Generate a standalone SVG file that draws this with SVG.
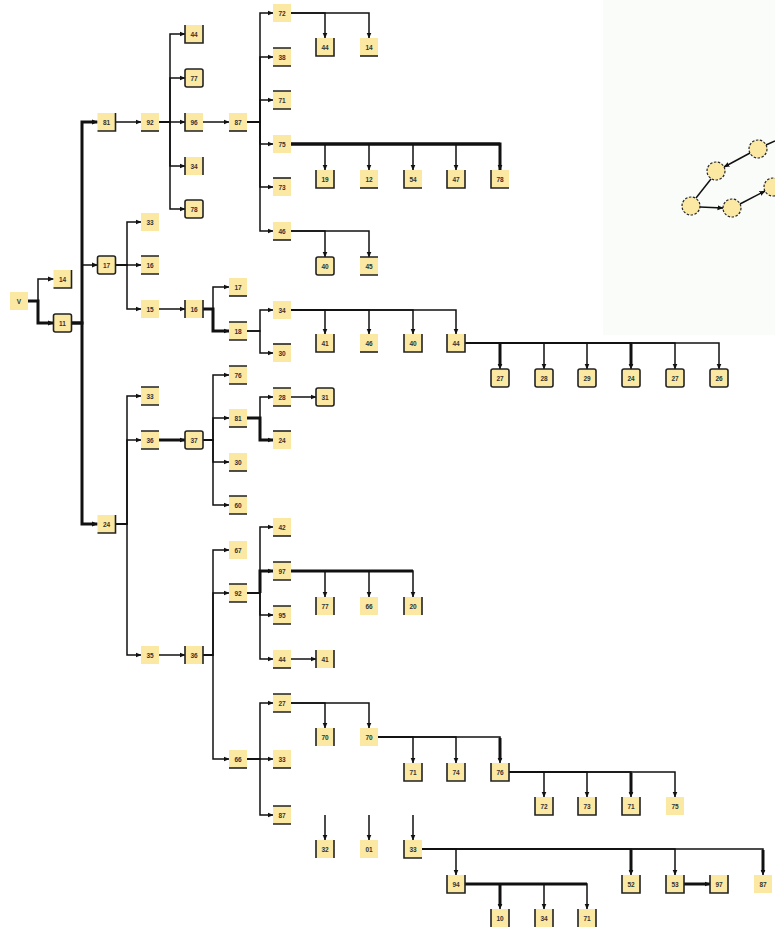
<svg xmlns="http://www.w3.org/2000/svg" width="775" height="938" viewBox="0 0 775 938">
<style>
.n rect{fill:#fbe8a2;stroke:#222;stroke-width:1.6}
.p rect{stroke:none}
.b rect{stroke-width:1.6}
.tb rect{stroke-dasharray:18 18}
.lr rect{stroke-dasharray:18 18;stroke-dashoffset:18}
.bb rect{stroke-dasharray:0 36 18 18}
.rb rect{stroke-dasharray:0 18 36 18}
.lb rect{stroke-dasharray:0 36 36 0}
.lrb rect{stroke-dasharray:0 18 54 0}
.t rect{stroke-dasharray:18 54}
.n text{font-family:"Liberation Sans",Arial,sans-serif;font-size:6.5px;font-weight:bold;fill:#333;text-anchor:middle;dominant-baseline:central}
.e path{fill:none;stroke:#111;stroke-width:1.5}
.e path.k{stroke-width:3}
.c circle{fill:#fbe8a2;stroke:#222;stroke-width:1.2;stroke-dasharray:2.5 1.5}
</style>
<defs>
<marker id="a" markerWidth="6" markerHeight="6" refX="5.5" refY="3" orient="auto" markerUnits="userSpaceOnUse"><path d="M0,0.5 L6,3 L0,5.5z" fill="#111"/></marker>
</defs>
<rect x="603" y="0" width="172" height="335" fill="#fafcfa"/>
<g class="e" id="connectors">
<path d="M28,301 H38 V279 H53.5" marker-end="url(#a)"/>
<path class="k" d="M28,301 H38 V323 H53.5" marker-end="url(#a)"/>
<path class="k" d="M71.5,323 H82 V122 H97.5" marker-end="url(#a)"/>
<path d="M71.5,323 H82 V265 H97.5" marker-end="url(#a)"/>
<path class="k" d="M71.5,323 H82 V524 H97.5" marker-end="url(#a)"/>
<path d="M115.5,122 H141" marker-end="url(#a)"/>
<path d="M159,122 H170 V34 H185" marker-end="url(#a)"/>
<path d="M159,122 H170 V78 H185" marker-end="url(#a)"/>
<path d="M159,122 H185" marker-end="url(#a)"/>
<path d="M159,122 H170 V166 H185" marker-end="url(#a)"/>
<path d="M159,122 H170 V209 H185" marker-end="url(#a)"/>
<path d="M203,122 H229" marker-end="url(#a)"/>
<path d="M247,122 H260 V13 H273" marker-end="url(#a)"/>
<path d="M247,122 H260 V57 H273" marker-end="url(#a)"/>
<path d="M247,122 H260 V100 H273" marker-end="url(#a)"/>
<path d="M247,122 H260 V144 H273" marker-end="url(#a)"/>
<path d="M247,122 H260 V187 H273" marker-end="url(#a)"/>
<path d="M247,122 H260 V231 H273" marker-end="url(#a)"/>
<path d="M291,13 H325 V38" marker-end="url(#a)"/>
<path d="M291,13 H369 V38" marker-end="url(#a)"/>
<path class="k" d="M291,144 H500"/>
<path d="M291,144 H325 V170" marker-end="url(#a)"/>
<path d="M291,144 H369 V170" marker-end="url(#a)"/>
<path d="M291,144 H413 V170" marker-end="url(#a)"/>
<path d="M291,144 H456 V170" marker-end="url(#a)"/>
<path class="k" d="M291,144 H500 V170" marker-end="url(#a)"/>
<path d="M291,231 H325 V257" marker-end="url(#a)"/>
<path d="M291,231 H369 V257" marker-end="url(#a)"/>
<path d="M115.5,265 H127 V222 H141" marker-end="url(#a)"/>
<path d="M115.5,265 H141" marker-end="url(#a)"/>
<path d="M115.5,265 H127 V309 H141" marker-end="url(#a)"/>
<path d="M159,309 H185" marker-end="url(#a)"/>
<path d="M203,309 H213 V287 H229" marker-end="url(#a)"/>
<path class="k" d="M203,309 H213 V331 H229" marker-end="url(#a)"/>
<path d="M247,331 H260 V310 H273" marker-end="url(#a)"/>
<path d="M247,331 H260 V353 H273" marker-end="url(#a)"/>
<path d="M291,310 H325 V334" marker-end="url(#a)"/>
<path d="M291,310 H369 V334" marker-end="url(#a)"/>
<path d="M291,310 H413 V334" marker-end="url(#a)"/>
<path d="M291,310 H456 V334" marker-end="url(#a)"/>
<path d="M465,343 H500 V369" marker-end="url(#a)"/>
<path class="k" d="M500,344 V366"/>
<path d="M465,343 H544 V369" marker-end="url(#a)"/>
<path d="M465,343 H587 V369" marker-end="url(#a)"/>
<path d="M465,343 H631 V369" marker-end="url(#a)"/>
<path class="k" d="M631,344 V366"/>
<path d="M465,343 H675 V369" marker-end="url(#a)"/>
<path d="M465,343 H719 V369" marker-end="url(#a)"/>
<path d="M115.5,524 H127 V396 H141" marker-end="url(#a)"/>
<path d="M115.5,524 H127 V440 H141" marker-end="url(#a)"/>
<path d="M115.5,524 H127 V655 H141" marker-end="url(#a)"/>
<path class="k" d="M159,440 H185" marker-end="url(#a)"/>
<path d="M203,440 H213 V375 H229" marker-end="url(#a)"/>
<path d="M203,440 H213 V418 H229" marker-end="url(#a)"/>
<path d="M203,440 H213 V462 H229" marker-end="url(#a)"/>
<path d="M203,440 H213 V505 H229" marker-end="url(#a)"/>
<path d="M247,418 H260 V397 H273" marker-end="url(#a)"/>
<path class="k" d="M247,418 H260 V440 H273" marker-end="url(#a)"/>
<path d="M291,397 H316" marker-end="url(#a)"/>
<path d="M159,655 H185" marker-end="url(#a)"/>
<path d="M203,655 H213 V550 H229" marker-end="url(#a)"/>
<path d="M203,655 H213 V593 H229" marker-end="url(#a)"/>
<path d="M203,655 H213 V759 H229" marker-end="url(#a)"/>
<path d="M247,593 H260 V527 H273" marker-end="url(#a)"/>
<path class="k" d="M260,593 V571 H273" marker-end="url(#a)"/>
<path d="M247,593 H260 V615 H273" marker-end="url(#a)"/>
<path d="M247,593 H260 V659 H273" marker-end="url(#a)"/>
<path class="k" d="M291,571 H413"/>
<path d="M291,571 H325 V597" marker-end="url(#a)"/>
<path d="M291,571 H369 V597" marker-end="url(#a)"/>
<path d="M291,571 H413 V597" marker-end="url(#a)"/>
<path d="M291,659 H316" marker-end="url(#a)"/>
<path d="M247,759 H260 V703 H273" marker-end="url(#a)"/>
<path d="M247,759 H273" marker-end="url(#a)"/>
<path d="M247,759 H260 V815 H273" marker-end="url(#a)"/>
<path d="M291,703 H325 V728" marker-end="url(#a)"/>
<path d="M291,703 H369 V728" marker-end="url(#a)"/>
<path d="M378,737 H413 V763" marker-end="url(#a)"/>
<path d="M378,737 H456 V763" marker-end="url(#a)"/>
<path d="M378,737 H500 V763" marker-end="url(#a)"/>
<path class="k" d="M500,738 V760"/>
<path d="M509,772 H544 V797" marker-end="url(#a)"/>
<path d="M509,772 H587 V797" marker-end="url(#a)"/>
<path d="M509,772 H631 V797" marker-end="url(#a)"/>
<path class="k" d="M631,773 V794"/>
<path d="M509,772 H675 V797" marker-end="url(#a)"/>
<path d="M325,815 V840" marker-end="url(#a)"/>
<path d="M369,815 V840" marker-end="url(#a)"/>
<path d="M413,815 V840" marker-end="url(#a)"/>
<path d="M422,849 H456 V875" marker-end="url(#a)"/>
<path d="M422,849 H631 V875" marker-end="url(#a)"/>
<path class="k" d="M631,850 V872"/>
<path d="M422,849 H675 V875" marker-end="url(#a)"/>
<path d="M422,849 H763 V875" marker-end="url(#a)"/>
<path class="k" d="M763,850 V872"/>
<path class="k" d="M465,884 H587"/>
<path d="M465,884 H500 V909" marker-end="url(#a)"/>
<path class="k" d="M500,885 V906"/>
<path d="M465,884 H544 V909" marker-end="url(#a)"/>
<path d="M465,884 H587 V909" marker-end="url(#a)"/>
<path class="k" d="M684,884 H710" marker-end="url(#a)"/>
<path d="M766,145 L775,141"/>
<path d="M750,153 L724,167" marker-end="url(#a)"/>
<path d="M711,179 L696,198"/>
<path d="M700,207 L723,208" marker-end="url(#a)"/>
<path d="M740,204 L765,191" marker-end="url(#a)"/>
</g>
<g class="c" id="circles">
<circle cx="758" cy="149" r="9"/>
<circle cx="716" cy="171" r="9"/>
<circle cx="691" cy="206" r="9"/>
<circle cx="732" cy="208" r="9"/>
<circle cx="773" cy="187" r="9"/>
</g>
<g id="n0" class="n p"><rect x="10" y="292" width="18" height="18"/><text x="19" y="301">V</text></g>
<g id="n1" class="n rb"><rect x="53.5" y="270" width="18" height="18"/><text x="62.5" y="279">14</text></g>
<g id="n2" class="n b"><rect x="53.5" y="314" width="18" height="18" rx="2"/><text x="62.5" y="323">11</text></g>
<g id="n3" class="n rb"><rect x="97.5" y="113" width="18" height="18"/><text x="106.5" y="122">81</text></g>
<g id="n4" class="n b"><rect x="97.5" y="256" width="18" height="18" rx="2"/><text x="106.5" y="265">17</text></g>
<g id="n5" class="n rb"><rect x="97.5" y="515" width="18" height="18"/><text x="106.5" y="524">24</text></g>
<g id="n6" class="n bb"><rect x="141" y="113" width="18" height="18"/><text x="150" y="122">92</text></g>
<g id="n7" class="n lrb"><rect x="185" y="25" width="18" height="18"/><text x="194" y="34">44</text></g>
<g id="n8" class="n b"><rect x="185" y="69" width="18" height="18" rx="2"/><text x="194" y="78">77</text></g>
<g id="n9" class="n lb"><rect x="185" y="113" width="18" height="18"/><text x="194" y="122">96</text></g>
<g id="n10" class="n lr"><rect x="185" y="157" width="18" height="18"/><text x="194" y="166">34</text></g>
<g id="n11" class="n b"><rect x="185" y="200" width="18" height="18" rx="2"/><text x="194" y="209">78</text></g>
<g id="n12" class="n bb"><rect x="229" y="113" width="18" height="18"/><text x="238" y="122">87</text></g>
<g id="n13" class="n p"><rect x="273" y="4" width="18" height="18"/><text x="282" y="13">72</text></g>
<g id="n14" class="n tb"><rect x="273" y="48" width="18" height="18"/><text x="282" y="57">38</text></g>
<g id="n15" class="n tb"><rect x="273" y="91" width="18" height="18"/><text x="282" y="100">71</text></g>
<g id="n16" class="n p"><rect x="273" y="135" width="18" height="18"/><text x="282" y="144">75</text></g>
<g id="n17" class="n t"><rect x="273" y="178" width="18" height="18"/><text x="282" y="187">73</text></g>
<g id="n18" class="n bb"><rect x="273" y="222" width="18" height="18"/><text x="282" y="231">46</text></g>
<g id="n19" class="n lrb"><rect x="316" y="38" width="18" height="18"/><text x="325" y="47">44</text></g>
<g id="n20" class="n bb"><rect x="360" y="38" width="18" height="18"/><text x="369" y="47">14</text></g>
<g id="n21" class="n lrb"><rect x="316" y="170" width="18" height="18"/><text x="325" y="179">19</text></g>
<g id="n22" class="n bb"><rect x="360" y="170" width="18" height="18"/><text x="369" y="179">12</text></g>
<g id="n23" class="n lb"><rect x="404" y="170" width="18" height="18"/><text x="413" y="179">54</text></g>
<g id="n24" class="n lrb"><rect x="447" y="170" width="18" height="18"/><text x="456" y="179">47</text></g>
<g id="n25" class="n lb"><rect x="491" y="170" width="18" height="18"/><text x="500" y="179">78</text></g>
<g id="n26" class="n b"><rect x="316" y="257" width="18" height="18" rx="2"/><text x="325" y="266">40</text></g>
<g id="n27" class="n tb"><rect x="360" y="257" width="18" height="18"/><text x="369" y="266">45</text></g>
<g id="n28" class="n p"><rect x="141" y="213" width="18" height="18"/><text x="150" y="222">33</text></g>
<g id="n29" class="n tb"><rect x="141" y="256" width="18" height="18"/><text x="150" y="265">16</text></g>
<g id="n30" class="n p"><rect x="141" y="300" width="18" height="18"/><text x="150" y="309">15</text></g>
<g id="n31" class="n lr"><rect x="185" y="300" width="18" height="18"/><text x="194" y="309">16</text></g>
<g id="n32" class="n bb"><rect x="229" y="278" width="18" height="18"/><text x="238" y="287">17</text></g>
<g id="n33" class="n tb"><rect x="229" y="322" width="18" height="18"/><text x="238" y="331">18</text></g>
<g id="n34" class="n p"><rect x="273" y="301" width="18" height="18"/><text x="282" y="310">34</text></g>
<g id="n35" class="n t"><rect x="273" y="344" width="18" height="18"/><text x="282" y="353">30</text></g>
<g id="n36" class="n lrb"><rect x="316" y="334" width="18" height="18"/><text x="325" y="343">41</text></g>
<g id="n37" class="n bb"><rect x="360" y="334" width="18" height="18"/><text x="369" y="343">46</text></g>
<g id="n38" class="n lrb"><rect x="404" y="334" width="18" height="18"/><text x="413" y="343">40</text></g>
<g id="n39" class="n lrb"><rect x="447" y="334" width="18" height="18"/><text x="456" y="343">44</text></g>
<g id="n40" class="n b"><rect x="491" y="369" width="18" height="18" rx="2"/><text x="500" y="378">27</text></g>
<g id="n41" class="n b"><rect x="535" y="369" width="18" height="18" rx="2"/><text x="544" y="378">28</text></g>
<g id="n42" class="n b"><rect x="578" y="369" width="18" height="18" rx="2"/><text x="587" y="378">29</text></g>
<g id="n43" class="n b"><rect x="622" y="369" width="18" height="18" rx="2"/><text x="631" y="378">24</text></g>
<g id="n44" class="n b"><rect x="666" y="369" width="18" height="18" rx="2"/><text x="675" y="378">27</text></g>
<g id="n45" class="n b"><rect x="710" y="369" width="18" height="18" rx="2"/><text x="719" y="378">26</text></g>
<g id="n46" class="n tb"><rect x="141" y="387" width="18" height="18"/><text x="150" y="396">33</text></g>
<g id="n47" class="n tb"><rect x="141" y="431" width="18" height="18"/><text x="150" y="440">36</text></g>
<g id="n48" class="n p"><rect x="141" y="646" width="18" height="18"/><text x="150" y="655">35</text></g>
<g id="n49" class="n b"><rect x="185" y="431" width="18" height="18" rx="2"/><text x="194" y="440">37</text></g>
<g id="n50" class="n tb"><rect x="229" y="366" width="18" height="18"/><text x="238" y="375">76</text></g>
<g id="n51" class="n bb"><rect x="229" y="409" width="18" height="18"/><text x="238" y="418">81</text></g>
<g id="n52" class="n bb"><rect x="229" y="453" width="18" height="18"/><text x="238" y="462">30</text></g>
<g id="n53" class="n tb"><rect x="229" y="496" width="18" height="18"/><text x="238" y="505">60</text></g>
<g id="n54" class="n tb"><rect x="273" y="388" width="18" height="18"/><text x="282" y="397">28</text></g>
<g id="n55" class="n t"><rect x="273" y="431" width="18" height="18"/><text x="282" y="440">24</text></g>
<g id="n56" class="n b"><rect x="316" y="388" width="18" height="18" rx="2"/><text x="325" y="397">31</text></g>
<g id="n57" class="n lr"><rect x="185" y="646" width="18" height="18"/><text x="194" y="655">36</text></g>
<g id="n58" class="n p"><rect x="229" y="541" width="18" height="18"/><text x="238" y="550">67</text></g>
<g id="n59" class="n tb"><rect x="229" y="584" width="18" height="18"/><text x="238" y="593">92</text></g>
<g id="n60" class="n bb"><rect x="229" y="750" width="18" height="18"/><text x="238" y="759">66</text></g>
<g id="n61" class="n bb"><rect x="273" y="518" width="18" height="18"/><text x="282" y="527">42</text></g>
<g id="n62" class="n tb"><rect x="273" y="562" width="18" height="18"/><text x="282" y="571">97</text></g>
<g id="n63" class="n tb"><rect x="273" y="606" width="18" height="18"/><text x="282" y="615">95</text></g>
<g id="n64" class="n bb"><rect x="273" y="650" width="18" height="18"/><text x="282" y="659">44</text></g>
<g id="n65" class="n lr"><rect x="316" y="597" width="18" height="18"/><text x="325" y="606">77</text></g>
<g id="n66" class="n p"><rect x="360" y="597" width="18" height="18"/><text x="369" y="606">66</text></g>
<g id="n67" class="n lr"><rect x="404" y="597" width="18" height="18"/><text x="413" y="606">20</text></g>
<g id="n68" class="n lr"><rect x="316" y="650" width="18" height="18"/><text x="325" y="659">41</text></g>
<g id="n69" class="n tb"><rect x="273" y="694" width="18" height="18"/><text x="282" y="703">27</text></g>
<g id="n70" class="n bb"><rect x="273" y="750" width="18" height="18"/><text x="282" y="759">33</text></g>
<g id="n71" class="n tb"><rect x="273" y="806" width="18" height="18"/><text x="282" y="815">87</text></g>
<g id="n72" class="n lr"><rect x="316" y="728" width="18" height="18"/><text x="325" y="737">70</text></g>
<g id="n73" class="n p"><rect x="360" y="728" width="18" height="18"/><text x="369" y="737">70</text></g>
<g id="n74" class="n lrb"><rect x="404" y="763" width="18" height="18"/><text x="413" y="772">71</text></g>
<g id="n75" class="n lrb"><rect x="447" y="763" width="18" height="18"/><text x="456" y="772">74</text></g>
<g id="n76" class="n lrb"><rect x="491" y="763" width="18" height="18"/><text x="500" y="772">76</text></g>
<g id="n77" class="n lrb"><rect x="535" y="797" width="18" height="18"/><text x="544" y="806">72</text></g>
<g id="n78" class="n lrb"><rect x="578" y="797" width="18" height="18"/><text x="587" y="806">73</text></g>
<g id="n79" class="n lrb"><rect x="622" y="797" width="18" height="18"/><text x="631" y="806">71</text></g>
<g id="n80" class="n p"><rect x="666" y="797" width="18" height="18"/><text x="675" y="806">75</text></g>
<g id="n81" class="n lr"><rect x="316" y="840" width="18" height="18"/><text x="325" y="849">32</text></g>
<g id="n82" class="n p"><rect x="360" y="840" width="18" height="18"/><text x="369" y="849">01</text></g>
<g id="n83" class="n lb"><rect x="404" y="840" width="18" height="18"/><text x="413" y="849">33</text></g>
<g id="n84" class="n lrb"><rect x="447" y="875" width="18" height="18"/><text x="456" y="884">94</text></g>
<g id="n85" class="n lrb"><rect x="622" y="875" width="18" height="18"/><text x="631" y="884">52</text></g>
<g id="n86" class="n lrb"><rect x="666" y="875" width="18" height="18"/><text x="675" y="884">53</text></g>
<g id="n87" class="n lrb"><rect x="710" y="875" width="18" height="18"/><text x="719" y="884">97</text></g>
<g id="n88" class="n p"><rect x="754" y="875" width="18" height="18"/><text x="763" y="884">87</text></g>
<g id="n89" class="n lr"><rect x="491" y="909" width="18" height="18"/><text x="500" y="918">10</text></g>
<g id="n90" class="n lr"><rect x="535" y="909" width="18" height="18"/><text x="544" y="918">34</text></g>
<g id="n91" class="n lr"><rect x="578" y="909" width="18" height="18"/><text x="587" y="918">71</text></g>
</svg>
